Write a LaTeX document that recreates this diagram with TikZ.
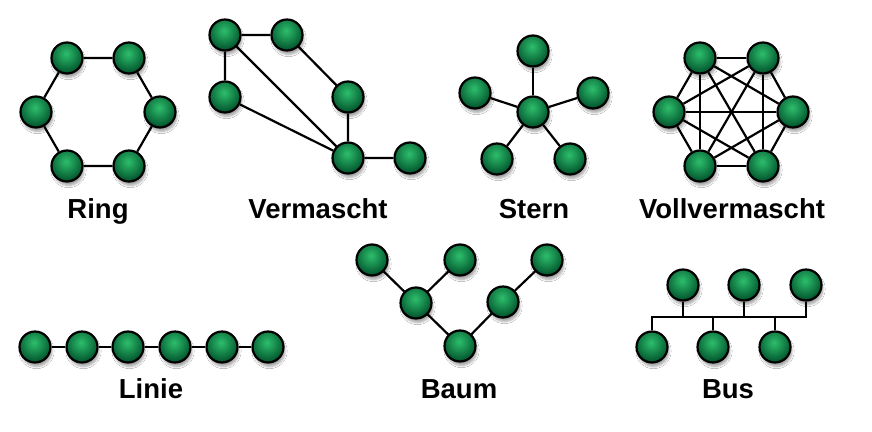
\documentclass[tikz,border=0pt]{standalone}
\usepackage{fontspec}
\setmainfont{Liberation Sans}
\usetikzlibrary{shadows.blur,backgrounds,calc}
\definecolor{gdark}{HTML}{00502A}
\definecolor{glight}{HTML}{2DBE6C}
\tikzset{
  nd/.style={circle,draw=black,line width=2.2pt,minimum size=31pt,inner sep=0pt,
    fill=gdark,
    path picture={\shade[inner color=glight,outer color=gdark]
      ($(path picture bounding box.center)+(-1pt,5pt)$) circle (19pt);},
    blur shadow={shadow xshift=1.5pt,shadow yshift=-4pt,shadow blur steps=6,shadow opacity=35}},
  ln/.style={line width=2.2pt,draw=black},
  lbl/.style={font=\fontsize{27.5}{30}\selectfont\bfseries,anchor=base}
}
\begin{document}
\begin{tikzpicture}[x=1pt,y=-1pt]
\useasboundingbox (0,0) rectangle (872,431);
% Ring
\node[nd] (r1) at (67,58) {};
\node[nd] (r2) at (129,58) {};
\node[nd] (r3) at (160,112) {};
\node[nd] (r4) at (129,166) {};
\node[nd] (r5) at (67,166) {};
\node[nd] (r6) at (36,112) {};
\node[lbl] (lring) at (98,218) {Ring};
% Vermascht
\node[nd] (va) at (225,35) {};
\node[nd] (vb) at (287,35) {};
\node[nd] (vc) at (225,97) {};
\node[nd] (vd) at (348,97) {};
\node[nd] (ve) at (348,158) {};
\node[nd] (vf) at (410,158) {};
\node[lbl] (lverm) at (318,218) {Vermascht};
% Stern
\node[nd] (s0) at (533,112) {};
\node[nd] (s1) at (533,51) {};
\node[nd] (s2) at (475,93) {};
\node[nd] (s3) at (593,93) {};
\node[nd] (s4) at (497,159) {};
\node[nd] (s5) at (570,159) {};
\node[lbl] (lstern) at (534,218) {Stern};
% Vollvermascht
\node[nd] (f1) at (700,58) {};
\node[nd] (f2) at (763,58) {};
\node[nd] (f3) at (793,112) {};
\node[nd] (f4) at (763,166) {};
\node[nd] (f5) at (700,166) {};
\node[nd] (f6) at (669,112) {};
\node[lbl] (lvoll) at (732,218) {Vollvermascht};
% Linie
\foreach \i/\x in {1/35,2/82,3/128,4/175,5/222,6/268}{\node[nd] (l\i) at (\x,347) {};}
\node[lbl] (llin) at (151,398) {Linie};
% Baum
\node[nd] (b1) at (372,260) {};
\node[nd] (b2) at (460,260) {};
\node[nd] (b3) at (547,260) {};
\node[nd] (b4) at (416,303) {};
\node[nd] (b5) at (503,302) {};
\node[nd] (b6) at (460,346) {};
\node[lbl] (lbaum) at (459,398) {Baum};
% Bus
\node[nd] (u1) at (683,285) {};
\node[nd] (u2) at (744,285) {};
\node[nd] (u3) at (806,285) {};
\node[nd] (d1) at (652,347) {};
\node[nd] (d2) at (713,347) {};
\node[nd] (d3) at (775,347) {};
\coordinate (bl) at (652,317);
\coordinate (br) at (806,317);
\node[lbl] (lbus) at (728,398) {Bus};
\begin{scope}[on background layer]
\fill[white] (0,0) rectangle (872,431);
\draw[ln] (r1)--(r2)--(r3)--(r4)--(r5)--(r6)--(r1);
\draw[ln] (va)--(vb) (va)--(vc) (va)--(ve) (vc)--(ve) (vb)--(vd) (vd)--(ve) (ve)--(vf);
\foreach \i in {1,...,5}{\draw[ln] (s0)--(s\i);}
\foreach \i in {1,...,6}{\foreach \j in {1,...,6}{\ifnum\i<\j \draw[ln] (f\i)--(f\j);\fi}}
\draw[ln] (l1)--(l2)--(l3)--(l4)--(l5)--(l6);
\draw[ln] (b1)--(b4) (b2)--(b4) (b4)--(b6) (b6)--(b5) (b5)--(b3);
\draw[ln,line cap=rect] (bl)--(br);
\draw[ln] (d1)--(bl);
\draw[ln] (d2)--(d2|-bl) (d3)--(d3|-bl) (u1)--(u1|-bl) (u2)--(u2|-bl) (u3)--(br);
\end{scope}
\end{tikzpicture}
\end{document}
